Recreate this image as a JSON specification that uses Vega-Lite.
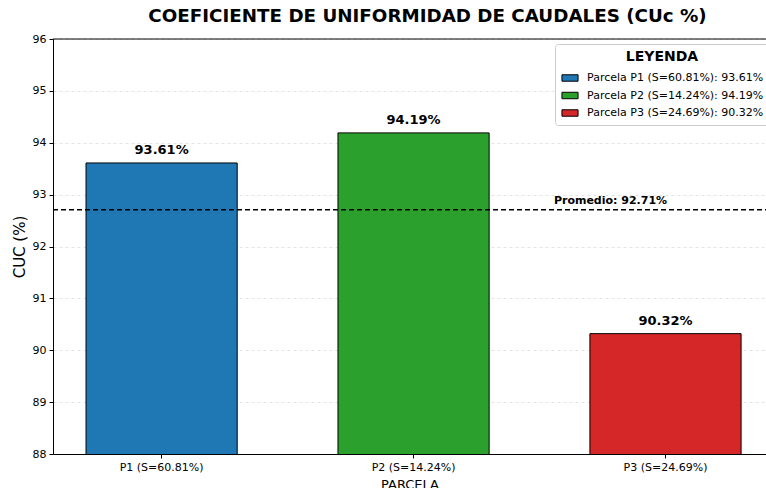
{
  "$schema": "https://vega.github.io/schema/vega-lite/v6.json",
  "autosize": {"type": "none"},
  "width": 713,
  "height": 415,
  "padding": {"left": 53, "top": 39, "right": 0, "bottom": 34},
  "config": {
    "font": "DejaVu Sans",
    "view": {"stroke": null},
    "axis": {"labelFont": "DejaVu Sans", "titleFont": "DejaVu Sans", "labelColor": "#000", "titleColor": "#000", "domainColor": "#000", "tickColor": "#000", "labelFontSize": 11, "titleFontSize": 13, "titleFontWeight": "normal", "tickSize": 4}
  },
  "title": {"text": "COEFICIENTE DE UNIFORMIDAD DE CAUDALES (CUc %)", "font": "DejaVu Sans", "fontSize": 18.3, "fontWeight": "bold", "color": "#000", "anchor": "middle", "dx": 18, "offset": 7},
  "data": {"values": [
    {"parcela": "P1 (S=60.81%)", "leyenda": "Parcela P1 (S=60.81%): 93.61%", "cuc": 93.61, "etiqueta": "93.61%"},
    {"parcela": "P2 (S=14.24%)", "leyenda": "Parcela P2 (S=14.24%): 94.19%", "cuc": 94.19, "etiqueta": "94.19%"},
    {"parcela": "P3 (S=24.69%)", "leyenda": "Parcela P3 (S=24.69%): 90.32%", "cuc": 90.32, "etiqueta": "90.32%"}
  ]},
  "encoding": {
    "x": {"field": "parcela", "type": "nominal", "sort": null,
      "scale": {"paddingInner": 0.4, "paddingOuter": 0.115, "align": 0.57},
      "axis": {"title": "PARCELA", "titleFontSize": 13, "labelAngle": 0, "labelPadding": 3, "titlePadding": 6, "grid": false}},
    "y": {"field": "cuc", "type": "quantitative",
      "scale": {"domain": [88, 96], "zero": false, "nice": false},
      "axis": {"title": "CUC (%)", "titleFontSize": 15, "values": [88, 89, 90, 91, 92, 93, 94, 95, 96], "labelOverlap": false, "grid": true, "gridColor": "#dddddd", "gridDash": [3, 3], "gridWidth": 0.8, "labelPadding": 3, "titlePadding": 5}}
  },
  "layer": [
    {
      "mark": {"type": "bar", "stroke": "#000", "strokeWidth": 1, "clip": true},
      "encoding": {
        "color": {"field": "leyenda", "type": "nominal", "sort": null,
          "scale": {"range": ["#1f77b4", "#2ca02c", "#d62728"]},
          "legend": {"title": "LEYENDA", "orient": "none", "legendX": 502, "legendY": 5,
            "titleFont": "DejaVu Sans", "titleFontSize": 14, "titleFontWeight": "bold", "titleColor": "#000", "titleAnchor": "middle",
            "labelFont": "DejaVu Sans", "labelFontSize": 11, "labelColor": "#000", "labelLimit": 400,
            "symbolType": "M-1,-0.4L1,-0.4L1,0.4L-1,0.4Z", "symbolSize": 260, "symbolStrokeColor": "#000", "symbolStrokeWidth": 1, "symbolOpacity": 1,
            "strokeColor": "#cccccc", "fillColor": "#ffffff", "cornerRadius": 3, "padding": 6, "rowPadding": 2.5, "titlePadding": 5, "labelOffset": 8}}
      }
    },
    {
      "mark": {"type": "text", "fontSize": 13, "fontWeight": "bold", "baseline": "bottom", "dy": -6, "color": "#000"},
      "encoding": {"text": {"field": "etiqueta"}}
    },
    {
      "data": {"values": [{"promedio": 92.71, "texto": "Promedio: 92.71%", "pos": "P3 (S=24.69%)"}]},
      "mark": {"type": "rule", "color": "#000", "strokeDash": [5, 3], "strokeWidth": 1.5},
      "encoding": {"y": {"field": "promedio", "type": "quantitative"}, "x": {"value": 0}, "x2": {"value": 713}}
    },
    {
      "data": {"values": [{"promedio": 92.71, "texto": "Promedio: 92.71%", "pos": "P3 (S=24.69%)"}]},
      "mark": {"type": "text", "fontSize": 11, "fontWeight": "bold", "baseline": "bottom", "dy": -4, "dx": -55, "color": "#000"},
      "encoding": {"y": {"field": "promedio", "type": "quantitative"}, "x": {"field": "pos", "type": "nominal"}, "text": {"field": "texto"}}
    },
    {
      "data": {"values": [{"tope": 96}]},
      "mark": {"type": "rule", "color": "#000", "strokeWidth": 1},
      "encoding": {"y": {"field": "tope", "type": "quantitative"}, "x": {"value": 0}, "x2": {"value": 713}}
    }
  ]
}
